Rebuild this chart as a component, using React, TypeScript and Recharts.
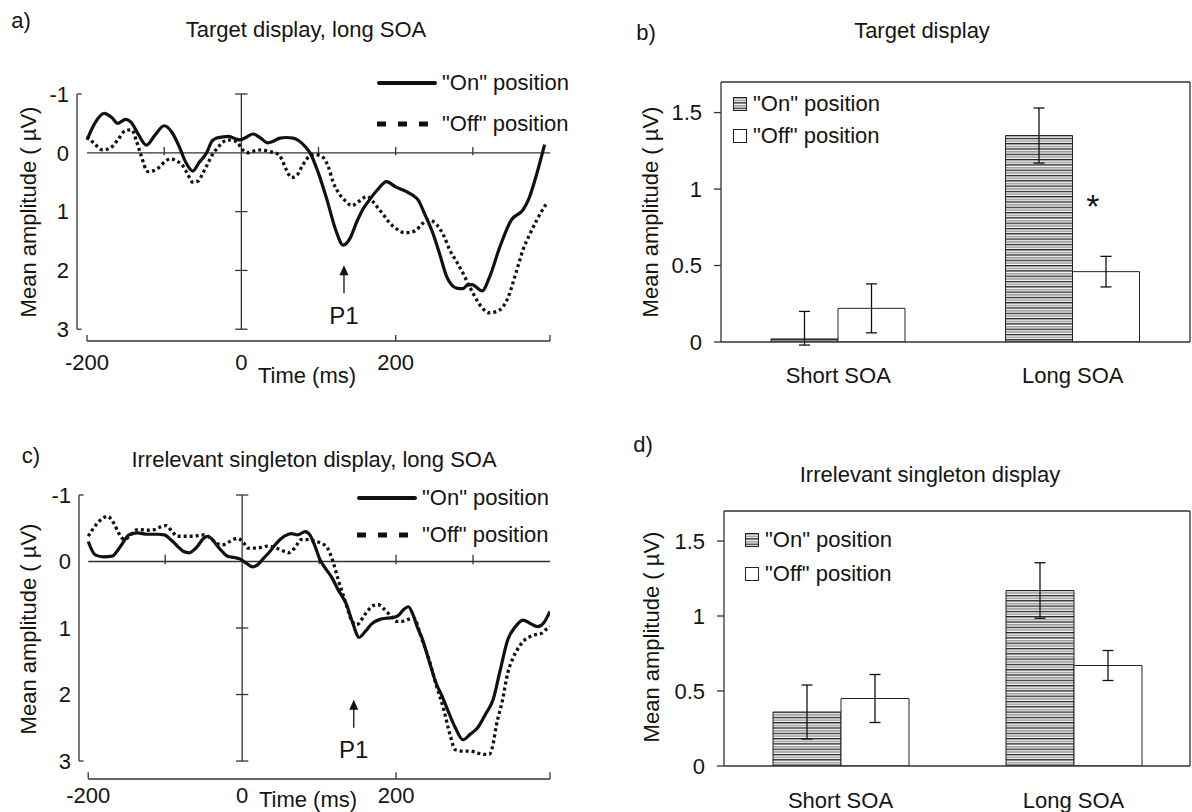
import React from 'react'
import {
  LineChart,
  Line,
  BarChart,
  Bar,
  ErrorBar,
  XAxis,
  YAxis,
  ReferenceLine,
  ReferenceDot,
} from 'recharts'

const FONT = '"Liberation Sans", Arial, Helvetica, sans-serif'
const INK = '#141414'
const AXIS = '#333'

// panel a: target display, long SOA  [time (ms), amplitude (µV)]
const targetOn: [number, number][] = [
  [-200, -0.22], [-190, -0.5], [-178, -0.67], [-168, -0.6], [-160, -0.5], [-150, -0.57],
  [-143, -0.52], [-133, -0.3], [-123, -0.13], [-112, -0.3], [-100, -0.46], [-90, -0.35],
  [-81, -0.12], [-72, 0.16], [-63, 0.31], [-55, 0.17], [-45, 0.0], [-38, -0.2], [-32, -0.25],
  [-24, -0.27], [-17, -0.28], [-8, -0.24], [-2, -0.22], [7, -0.27], [15, -0.32], [25, -0.25],
  [34, -0.17], [42, -0.2], [50, -0.25], [58, -0.26], [67, -0.25], [75, -0.2], [83, -0.1],
  [89, 0.0], [100, 0.35], [111, 0.8], [122, 1.3], [132, 1.57], [141, 1.45], [150, 1.16],
  [158, 0.95], [166, 0.8], [177, 0.62], [188, 0.49], [200, 0.58], [214, 0.66], [222, 0.72],
  [229, 0.8], [238, 1.05], [248, 1.36], [257, 1.72], [266, 2.1], [279, 2.3], [287, 2.31],
  [293, 2.25], [299, 2.24], [305, 2.29], [312, 2.35], [322, 2.1], [335, 1.6], [350, 1.14],
  [365, 0.97], [372, 0.8], [383, 0.35], [393, -0.14],
]
const targetOff: [number, number][] = [
  [-200, -0.28], [-190, -0.15], [-180, -0.05], [-170, -0.08], [-160, -0.22], [-150, -0.38],
  [-142, -0.39], [-136, -0.2], [-131, 0.0], [-121, 0.32], [-113, 0.3], [-106, 0.24], [-99, 0.15],
  [-92, 0.1], [-84, 0.14], [-77, 0.2], [-70, 0.35], [-63, 0.5], [-56, 0.48], [-50, 0.35],
  [-43, 0.17], [-37, 0.02], [-31, -0.08], [-24, -0.18], [-18, -0.22], [-12, -0.21], [-6, -0.19],
  [0, -0.08], [7, 0.0], [16, -0.03], [27, -0.05], [36, -0.02], [44, 0.0], [52, 0.1], [58, 0.28],
  [65, 0.42], [72, 0.38], [80, 0.2], [88, 0.06], [95, 0.03], [106, 0.08], [113, 0.25], [119, 0.5],
  [127, 0.7], [135, 0.82], [143, 0.9], [153, 0.82], [163, 0.74], [170, 0.82], [176, 0.92],
  [184, 1.05], [192, 1.19], [202, 1.3], [212, 1.36], [220, 1.35], [227, 1.31], [235, 1.2],
  [242, 1.14], [253, 1.22], [262, 1.4], [270, 1.65], [279, 1.85], [287, 2.04], [296, 2.28],
  [305, 2.5], [313, 2.65], [321, 2.72], [330, 2.7], [339, 2.62], [346, 2.45], [352, 2.21],
  [358, 1.95], [365, 1.65], [374, 1.38], [383, 1.14], [396, 0.85],
]

// panel c: irrelevant singleton display, long SOA
const singletonOn: [number, number][] = [
  [-200, -0.3], [-191, -0.1], [-180, -0.07], [-169, -0.08], [-158, -0.23], [-147, -0.4],
  [-136, -0.43], [-123, -0.41], [-110, -0.41], [-101, -0.4], [-92, -0.32], [-84, -0.23],
  [-76, -0.15], [-69, -0.13], [-62, -0.18], [-58, -0.23], [-50, -0.35], [-45, -0.38],
  [-38, -0.32], [-32, -0.23], [-25, -0.14], [-19, -0.08], [-10, -0.06], [-3, -0.04], [6, 0.03],
  [13, 0.08], [20, 0.05], [28, -0.05], [36, -0.15], [45, -0.28], [55, -0.38], [64, -0.42],
  [72, -0.4], [82, -0.45], [88, -0.4], [95, -0.22], [101, -0.03], [108, 0.1], [116, 0.23],
  [125, 0.43], [135, 0.63], [143, 0.9], [152, 1.14], [160, 1.05], [169, 0.93], [179, 0.87],
  [189, 0.85], [197, 0.84], [204, 0.8], [210, 0.72], [216, 0.68], [222, 0.8], [228, 1.0],
  [233, 1.13], [243, 1.5], [252, 1.83], [260, 2.03], [267, 2.23], [277, 2.5], [287, 2.68],
  [296, 2.6], [306, 2.5], [316, 2.3], [326, 2.08], [335, 1.65], [345, 1.18], [355, 0.98],
  [365, 0.88], [374, 0.93], [384, 0.98], [392, 0.92], [400, 0.75],
]
const singletonOff: [number, number][] = [
  [-200, -0.38], [-190, -0.55], [-181, -0.65], [-175, -0.68], [-167, -0.58], [-160, -0.42],
  [-153, -0.33], [-145, -0.4], [-139, -0.47], [-133, -0.48], [-124, -0.47], [-114, -0.48],
  [-106, -0.52], [-99, -0.54], [-91, -0.45], [-84, -0.38], [-79, -0.38], [-65, -0.38],
  [-50, -0.4], [-42, -0.36], [-34, -0.28], [-26, -0.25], [-16, -0.3], [-6, -0.35], [2, -0.28],
  [8, -0.2], [18, -0.2], [33, -0.23], [45, -0.2], [55, -0.15], [60, -0.13], [68, -0.2],
  [77, -0.33], [86, -0.33], [96, -0.3], [104, -0.27], [111, -0.2], [118, 0.0], [125, 0.28],
  [134, 0.6], [142, 0.88], [148, 0.95], [152, 0.93], [158, 0.82], [164, 0.73], [171, 0.66],
  [177, 0.65], [185, 0.72], [194, 0.83], [201, 0.9], [208, 0.9], [216, 0.87], [223, 0.85],
  [233, 1.15], [243, 1.48], [252, 1.85], [262, 2.23], [270, 2.6], [277, 2.83], [287, 2.85],
  [296, 2.85], [306, 2.88], [315, 2.9], [321, 2.9], [326, 2.75], [330, 2.48], [338, 2.1],
  [345, 1.68], [352, 1.45], [360, 1.28], [367, 1.18], [374, 1.13], [381, 1.1], [389, 1.08],
  [395, 1.02], [400, 0.98],
]

// panels b and d: mean amplitudes with error bars
const soaLabels = ['Short SOA', 'Long SOA']
const targetBarOn = [0.02, 1.35]
const targetBarOff = [0.22, 0.46]
const targetErrOn: [number, number][] = [[0.04, 0.18], [0.18, 0.18]]
const targetErrOff = [0.16, 0.1]
const singletonBarOn = [0.36, 1.17]
const singletonBarOff = [0.45, 0.67]
const singletonErrOn = [0.18, 0.185]
const singletonErrOff = [0.16, 0.1]

const ampTicks = [-1, 0, 1, 2, 3]
const timeTicks = [-200, 0, 200]
const zeroLineTicks = [-100, 100, 200, 300]
const bottomAxisTicks = [-200, 200, 400]
const innerTicks = [-1, 1, 2, 3]
const barTicks = [0, 0.5, 1, 1.5]

const yTitle = 'Mean amplitude ( µV)'

function rotLabel(cx: number, cy: number) {
  return () => (
    <text
      x={cx}
      y={cy}
      transform={`rotate(-90 ${cx} ${cy})`}
      textAnchor="middle"
      dominantBaseline="central"
      fill={INK}
      fontSize={22}
    >
      {yTitle}
    </text>
  )
}

function flatLabel(cx: number, cy: number, text: string) {
  return () => (
    <text x={cx} y={cy} textAnchor="middle" dominantBaseline="central" fill={INK} fontSize={22}>
      {text}
    </text>
  )
}

const P1Marker = (p: any) => {
  const { cx, cy } = p
  return (
    <g>
      <polygon points={`${cx},${cy} ${cx - 4.5},${cy + 10} ${cx + 4.5},${cy + 10}`} fill="#111" />
      <line x1={cx} y1={cy + 8} x2={cx} y2={cy + 28} stroke="#111" strokeWidth={1.3} />
      <text x={cx} y={cy + 50} textAnchor="middle" dominantBaseline="central" fontSize={24} fill={INK}>
        P1
      </text>
    </g>
  )
}

const Star = (p: any) => (
  <text x={p.cx + 20} y={p.cy + 21} textAnchor="middle" fontSize={34} fill={INK}>
    *
  </text>
)

type Margin = { top: number; right: number; bottom: number; left: number }

interface ErpPanelProps {
  on: [number, number][]
  off: [number, number][]
  width: number
  height: number
  margin: Margin
  xMin: number
  yMax: number
  tickMargin: number
  p1: { t: number; v: number }
  yLabelAt: [number, number]
  xLabelAt: [number, number]
}

function ErpPanel({ on, off, width, height, margin, xMin, yMax, tickMargin, p1, yLabelAt, xLabelAt }: ErpPanelProps) {
  const onPts = on.map(([t, v]) => ({ t, v }))
  const offPts = off.map(([t, v]) => ({ t, v }))
  const ln = { stroke: AXIS, strokeWidth: 1.3, ifOverflow: 'visible' as const }

  return (
    <LineChart width={width} height={height} margin={margin}>
      <XAxis
        type="number"
        dataKey="t"
        domain={[xMin, 400]}
        allowDataOverflow
        ticks={timeTicks}
        axisLine={false}
        tickLine={false}
        tickMargin={tickMargin}
        tick={{ fill: INK, fontSize: 22 }}
        label={{ content: flatLabel(xLabelAt[0], xLabelAt[1], 'Time (ms)') }}
      />
      <YAxis
        type="number"
        domain={[-1, yMax]}
        allowDataOverflow
        reversed
        ticks={ampTicks}
        width={40}
        axisLine={false}
        tickLine={false}
        tick={{ fill: INK, fontSize: 22 }}
        label={{ content: rotLabel(yLabelAt[0], yLabelAt[1]) }}
      />

      {/* left axis, offset from the data */}
      <ReferenceLine segment={[{ x: xMin, y: -1 }, { x: xMin, y: 3 }]} {...ln} />
      <ReferenceLine segment={[{ x: xMin, y: -1 }, { x: xMin + 6, y: -1 }]} {...ln} />
      <ReferenceLine segment={[{ x: xMin, y: 3 }, { x: xMin + 6, y: 3 }]} {...ln} />

      {/* zero line */}
      <ReferenceLine segment={[{ x: -200, y: 0 }, { x: 400, y: 0 }]} {...ln} />
      {zeroLineTicks.map((t) => (
        <ReferenceLine key={`z${t}`} segment={[{ x: t, y: -0.1 }, { x: t, y: 0.04 }]} {...ln} />
      ))}

      {/* stimulus onset line */}
      <ReferenceLine segment={[{ x: 0, y: -1 }, { x: 0, y: 3 }]} {...ln} />
      {innerTicks.map((v) => (
        <ReferenceLine key={`o${v}`} segment={[{ x: -8, y: v }, { x: 8, y: v }]} {...ln} />
      ))}

      {/* bottom time axis */}
      <ReferenceLine segment={[{ x: -200, y: yMax }, { x: 400, y: yMax }]} {...ln} />
      {bottomAxisTicks.map((t) => (
        <ReferenceLine key={`b${t}`} segment={[{ x: t, y: yMax }, { x: t, y: yMax - 0.1 }]} {...ln} />
      ))}

      <Line
        data={offPts}
        dataKey="v"
        type="monotone"
        stroke="#111"
        strokeWidth={3.3}
        strokeDasharray="3 3"
        dot={false}
        isAnimationActive={false}
      />
      <Line
        data={onPts}
        dataKey="v"
        type="monotone"
        stroke="#111"
        strokeWidth={3.2}
        dot={false}
        isAnimationActive={false}
      />

      <ReferenceDot x={p1.t} y={p1.v} r={0} ifOverflow="visible" shape={P1Marker} />
    </LineChart>
  )
}

interface BarPanelProps {
  on: number[]
  off: number[]
  errOn: (number | [number, number])[]
  errOff: number[]
  width: number
  height: number
  margin: Margin
  gap: number
  xTickMargin: number
  hatchId: string
  yLabelAt: [number, number]
  star?: boolean
}

function Hatch({ id }: { id: string }) {
  return (
    <pattern id={id} width={8} height={5.3} patternUnits="userSpaceOnUse">
      <rect width={8} height={5.3} fill="#fbfbfb" />
      <rect y={2.6} width={8} height={1.6} fill="#9e9e9e" />
      <rect y={0} width={8} height={1.3} fill="#1e1e1e" />
    </pattern>
  )
}

function BarPanel({ on, off, errOn, errOff, width, height, margin, gap, xTickMargin, hatchId, yLabelAt, star }: BarPanelProps) {
  const data = soaLabels.map((name, i) => ({
    name,
    on: on[i],
    off: off[i],
    errOn: errOn[i],
    errOff: errOff[i],
  }))
  const axisLine = { stroke: AXIS, strokeWidth: 1.3 }

  return (
    <BarChart width={width} height={height} margin={margin} data={data} barCategoryGap={gap} barGap={0}>
      <defs>
        <Hatch id={hatchId} />
      </defs>
      <XAxis
        dataKey="name"
        axisLine={axisLine}
        tickLine={false}
        tickSize={0}
        tickMargin={xTickMargin}
        tick={{ fill: INK, fontSize: 22 }}
      />
      <YAxis
        domain={[0, 1.7]}
        allowDataOverflow
        ticks={barTicks}
        width={60}
        tickSize={7}
        tickMargin={12}
        axisLine={axisLine}
        tickLine={axisLine}
        tick={{ fill: INK, fontSize: 22 }}
        label={{ content: rotLabel(yLabelAt[0], yLabelAt[1]) }}
      />
      <ReferenceLine y={1.7} stroke={AXIS} strokeWidth={1.3} />
      <ReferenceLine x="Long SOA" position="end" stroke={AXIS} strokeWidth={1.3} />

      <Bar dataKey="on" fill={`url(#${hatchId})`} stroke="#222" strokeWidth={1} isAnimationActive={false}>
        <ErrorBar dataKey="errOn" width={5.5} stroke="#111" strokeWidth={1.3} isAnimationActive={false} />
      </Bar>
      <Bar dataKey="off" fill="#fff" stroke="#222" strokeWidth={1} isAnimationActive={false}>
        <ErrorBar dataKey="errOff" width={5.5} stroke="#111" strokeWidth={1.3} isAnimationActive={false} />
      </Bar>

      {star && <ReferenceDot x="Long SOA" y={0.95} r={0} ifOverflow="visible" shape={Star} />}
    </BarChart>
  )
}

function Txt({ x, y, children, left }: { x: number; y: number; children: React.ReactNode; left?: boolean }) {
  return (
    <div
      style={{
        position: 'absolute',
        left: x,
        top: y,
        transform: `translate(${left ? '0' : '-50%'}, -50%)`,
        fontSize: 22,
        lineHeight: 1,
        whiteSpace: 'nowrap',
        color: INK,
      }}
    >
      {children}
    </div>
  )
}

function LineKey({ x, y, label, dashed }: { x: number; y: number; label: string; dashed?: boolean }) {
  return (
    <>
      <svg style={{ position: 'absolute', left: x, top: y - 5 }} width={60} height={10}>
        {dashed ? (
          <line x1={0} y1={5} x2={51} y2={5} stroke="#111" strokeWidth={5} strokeDasharray="9 12" />
        ) : (
          <line x1={2} y1={5} x2={58} y2={5} stroke="#111" strokeWidth={4} strokeLinecap="round" />
        )}
      </svg>
      <Txt x={x + 65} y={y} left>
        {label}
      </Txt>
    </>
  )
}

function BoxKey({ x, y, label, fill }: { x: number; y: number; label: string; fill: string }) {
  return (
    <>
      <svg style={{ position: 'absolute', left: x, top: y - 7 }} width={14} height={14}>
        <defs>
          <Hatch id="keyHatch" />
        </defs>
        <rect x={0.5} y={0.5} width={13} height={13} fill={fill} stroke="#222" strokeWidth={1} />
      </svg>
      <Txt x={x + 20} y={y} left>
        {label}
      </Txt>
    </>
  )
}

export default function App() {
  return (
    <div
      style={{
        position: 'absolute',
        left: 0,
        top: 0,
        width: 1192,
        height: 812,
        background: '#fff',
        fontFamily: FONT,
        overflow: 'hidden',
      }}
    >
      <div style={{ position: 'absolute', left: 0, top: 0 }}>
        <ErpPanel
          on={targetOn}
          off={targetOff}
          width={590}
          height={400}
          margin={{ top: 94, right: 40, bottom: 29, left: 37 }}
          xMin={-213}
          yMax={3.2}
          tickMargin={7}
          p1={{ t: 133, v: 1.91 }}
          yLabelAt={[28, 212]}
          xLabelAt={[307, 375]}
        />
      </div>
      <div style={{ position: 'absolute', left: 0, top: 420 }}>
        <ErpPanel
          on={singletonOn}
          off={singletonOff}
          width={590}
          height={392}
          margin={{ top: 75, right: 40, bottom: 3, left: 39 }}
          xMin={-212}
          yMax={3.27}
          tickMargin={2}
          p1={{ t: 145, v: 2.08 }}
          yLabelAt={[28, 209]}
          xLabelAt={[308, 379]}
        />
      </div>
      <div style={{ position: 'absolute', left: 590, top: 0 }}>
        <BarPanel
          on={targetBarOn}
          off={targetBarOff}
          errOn={targetErrOn}
          errOff={targetErrOff}
          width={602}
          height={400}
          margin={{ top: 82, right: 2, bottom: 28, left: 71 }}
          gap={50}
          xTickMargin={25}
          hatchId="hatchB"
          yLabelAt={[60, 212]}
          star
        />
      </div>
      <div style={{ position: 'absolute', left: 590, top: 420 }}>
        <BarPanel
          on={singletonBarOn}
          off={singletonBarOff}
          errOn={singletonErrOn}
          errOff={singletonErrOff}
          width={602}
          height={392}
          margin={{ top: 91, right: 2, bottom: 16, left: 74 }}
          gap={49}
          xTickMargin={26}
          hatchId="hatchD"
          yLabelAt={[61, 217]}
        />
      </div>

      <Txt x={21} y={21}>a)</Txt>
      <Txt x={306} y={30}>Target display, long SOA</Txt>
      <Txt x={646} y={33}>b)</Txt>
      <Txt x={922} y={31}>Target display</Txt>
      <Txt x={31} y={456}>c)</Txt>
      <Txt x={314} y={460}>Irrelevant singleton display, long SOA</Txt>
      <Txt x={643} y={445}>d)</Txt>
      <Txt x={930} y={475}>Irrelevant singleton display</Txt>

      <LineKey x={377} y={83} label={'"On" position'} />
      <LineKey x={377} y={124} label={'"Off" position'} dashed />
      <LineKey x={357} y={498} label={'"On" position'} />
      <LineKey x={357} y={535} label={'"Off" position'} dashed />

      <BoxKey x={733} y={104} label={'"On" position'} fill="url(#keyHatch)" />
      <BoxKey x={733} y={136} label={'"Off" position'} fill="#fff" />
      <BoxKey x={745} y={540} label={'"On" position'} fill="url(#keyHatch)" />
      <BoxKey x={745} y={574} label={'"Off" position'} fill="#fff" />
    </div>
  )
}
